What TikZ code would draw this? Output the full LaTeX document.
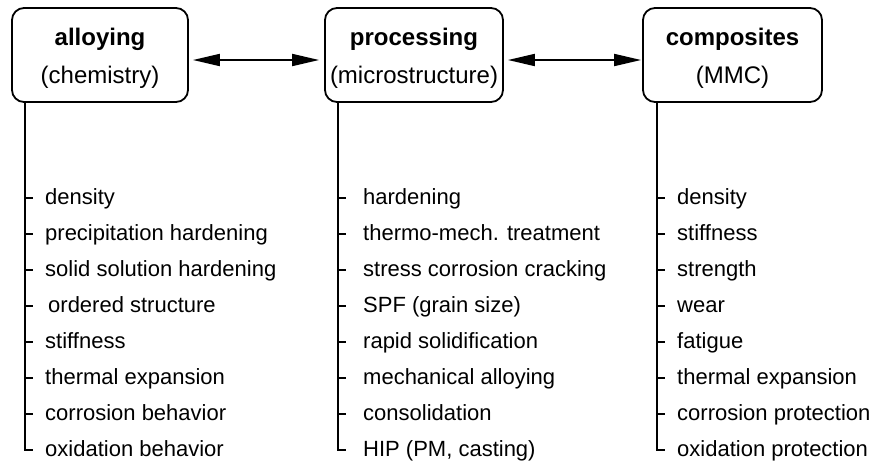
\documentclass[tikz,border=0pt]{standalone}
\usepackage{fontspec}
\setmainfont{Liberation Sans}
\usetikzlibrary{arrows.meta}
\begin{document}
\begin{tikzpicture}[x=1pt,y=-1pt,
  groupbox/.style={draw,line width=1.8pt,rounded corners=12pt,minimum width=#1,minimum height=94pt,inner sep=0pt},
  titletext/.style={font=\fontsize{24}{28}\selectfont\bfseries,anchor=base,inner sep=0pt},
  subtext/.style={font=\fontsize{24}{28}\selectfont,anchor=base,inner sep=0pt},
  itemtext/.style={font=\fontsize{22}{26}\selectfont,anchor=base west,inner sep=0pt},
  stem/.style={line width=1.8pt},
  tick/.style={line width=1.6pt},
  link/.style={line width=1.8pt,{Triangle[length=27pt,width=12pt]}-{Triangle[length=27pt,width=12pt]}}
]
\useasboundingbox (0,0) rectangle (874,464);

% header boxes
\node[groupbox=176pt] (b1) at (100,55) {};
\node[groupbox=178pt] (b2) at (414,55) {};
\node[groupbox=179pt] (b3) at (732.5,55) {};

\node[titletext] (t1) at (100,45) {alloying};
\node[subtext]   (s1) at (100,83) {(chemistry)};
\node[titletext] (t2) at (414,45) {processing};
\node[subtext]   (s2) at (414,83) {(microstructure)};
\node[titletext] (t3) at (732.5,45) {composites};
\node[subtext]   (s3) at (732.5,83) {(MMC)};

% links between the groups
\draw[link] ([xshift=4pt,yshift=-5pt]b1.east) -- ([xshift=-5pt,yshift=-5pt]b2.west);
\draw[link] ([xshift=4pt,yshift=-5pt]b2.east) -- ([xshift=-1pt,yshift=-5pt]b3.west);

% item lists: stem x, text x, entries
\foreach \g/\sx/\tx/\list in {
  1/25/45/{density,precipitation hardening,solid solution hardening,\hspace{3pt}ordered structure,stiffness,thermal expansion,corrosion behavior,oxidation behavior},
  2/338/363/{hardening,thermo-mech. treatment,stress corrosion cracking,SPF (grain size),rapid solidification,mechanical alloying,consolidation,{HIP (PM, casting)}},
  3/657/677/{density,stiffness,strength,wear,fatigue,thermal expansion,corrosion protection,oxidation protection}}{
  \coordinate (top\g) at (\sx,102);
  \foreach [count=\i] \txt in \list {
    \pgfmathsetmacro{\yy}{198+36*(\i-1)}
    \node[itemtext] (i\g-\i) at (\tx,\yy+6) {\txt};
    \coordinate (k\g-\i) at (\sx,\yy);
  }
  % vertical stem ending in a hook at the last entry
  \draw[stem] (top\g) -- (k\g-8) -- ++(8,0);
  \foreach \i in {1,...,7} {
    \draw[tick] (k\g-\i) -- ++(8,0);
  }
}
\end{tikzpicture}
\end{document}
